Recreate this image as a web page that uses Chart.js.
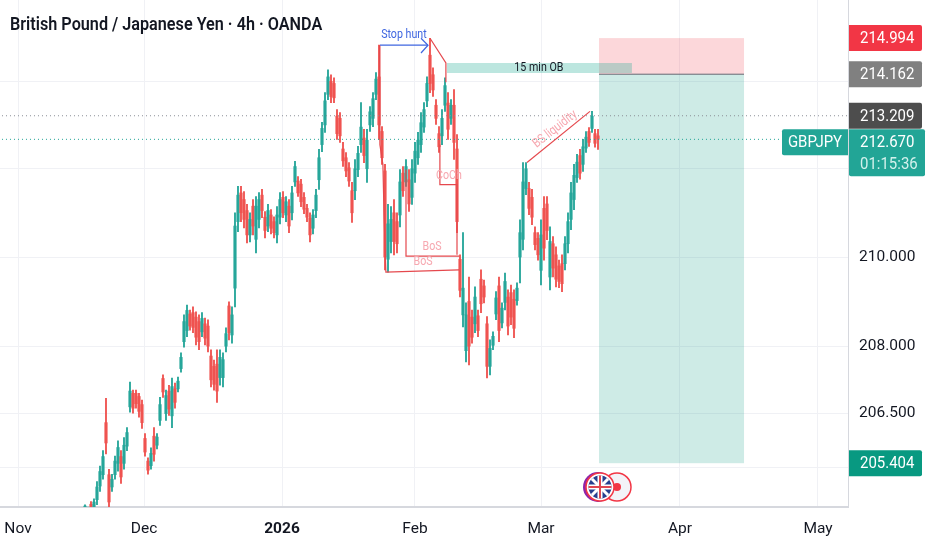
<!DOCTYPE html>
<html>
<head>
<meta charset="utf-8">
<style>
  html, body { margin: 0; padding: 0; background: #fff; }
  canvas { display: block; }
</style>
<script src="https://cdn.jsdelivr.net/npm/chart.js@4/dist/chart.umd.min.js"></script>
</head>
<body>
<canvas id="chart" width="932" height="550"></canvas>
<script>
const highs = [204.49,204.44,204.56,204.62,205.00,205.34,205.68,206.84,205.27,205.16,205.56,205.90,205.68,205.97,206.19,207.20,207.02,207.02,206.95,206.80,206.06,205.52,205.74,206.19,206.06,206.86,207.36,207.02,207.13,207.29,207.18,207.31,207.85,208.70,208.92,208.81,208.88,208.77,208.70,208.75,208.63,208.59,207.92,207.69,207.92,207.92,207.85,208.41,208.99,208.88,211.00,211.60,211.60,211.48,211.19,211.00,211.30,211.37,211.46,211.53,211.03,211.19,211.07,210.91,211.14,211.46,211.48,211.37,211.30,211.60,212.17,211.82,211.76,211.46,211.19,211.00,211.07,211.53,212.44,213.06,213.74,214.26,214.15,214.08,213.35,213.28,212.60,212.37,212.14,211.69,212.21,212.51,213.51,212.90,212.90,213.42,213.74,214.20,214.83,212.96,212.10,211.19,211.14,211.30,211.00,211.98,212.05,212.21,211.98,212.21,212.60,212.83,213.28,213.51,214.10,214.99,214.31,213.58,212.96,213.35,214.08,213.74,213.58,213.81,212.78,210.05,210.55,208.97,209.55,208.81,209.33,208.81,209.71,209.48,208.66,208.14,208.32,209.22,209.55,208.97,209.64,209.26,209.37,209.26,209.42,210.84,212.14,212.14,211.69,211.53,210.68,210.55,210.84,211.37,211.37,210.68,210.46,210.23,209.93,210.05,210.46,211.00,211.69,212.10,212.33,212.44,212.67,212.85,212.94,213.31,212.90,212.90];
const lows = [204.36,204.29,204.29,204.33,204.49,204.78,205.05,205.61,204.33,204.78,205.05,205.23,204.96,205.27,205.68,206.53,206.51,206.62,206.42,206.17,205.56,205.16,205.27,205.45,205.72,206.24,206.86,206.35,206.46,206.19,206.62,206.98,207.42,207.98,208.21,208.36,208.30,208.03,207.92,208.21,208.03,207.87,207.09,207.02,206.75,207.13,207.09,207.87,208.14,208.07,208.88,210.57,210.80,210.66,210.32,210.34,210.50,210.09,210.66,210.89,210.43,210.57,210.52,210.43,210.32,210.75,210.89,210.80,210.55,210.84,211.60,211.37,211.14,210.98,210.80,210.34,210.52,210.89,211.53,212.39,212.83,213.58,213.51,213.51,212.67,212.60,212.05,211.82,211.60,210.78,211.30,211.82,212.37,212.14,211.69,212.85,212.96,213.58,212.67,212.10,209.71,209.66,210.09,210.05,210.09,210.68,211.37,211.60,211.03,211.19,211.69,212.10,212.37,212.83,213.42,213.74,213.65,213.01,212.37,212.55,213.31,212.67,213.01,212.21,210.55,209.10,208.43,207.65,207.58,208.07,208.30,208.21,208.75,208.97,207.29,207.36,207.92,208.59,208.10,208.41,208.81,208.25,208.48,208.19,208.92,209.42,210.16,211.41,210.96,210.73,210.16,209.93,209.37,209.93,210.39,209.26,209.55,209.33,209.31,209.22,209.71,210.09,210.62,211.07,211.69,211.76,211.94,212.37,212.51,212.83,212.49,212.44];
const opens = [204.39,204.33,204.50,204.40,204.60,204.90,205.15,206.30,205.15,204.88,205.15,205.40,205.55,205.40,205.78,206.65,206.95,206.95,206.88,206.70,205.95,205.45,205.35,206.00,205.80,206.35,207.28,206.50,207.00,206.45,207.05,207.05,207.50,208.10,208.35,208.72,208.75,208.65,208.55,208.32,208.50,208.45,207.78,207.55,207.60,207.30,207.30,208.00,208.90,208.25,209.30,210.80,211.45,211.30,211.05,210.50,211.15,210.40,210.85,211.40,210.90,210.70,210.95,210.80,210.50,210.90,211.35,210.95,211.15,211.00,211.70,211.72,211.65,211.35,211.10,210.88,210.65,211.05,211.75,212.55,213.00,213.70,214.00,213.95,213.20,213.15,212.45,212.25,212.02,211.50,211.50,211.98,212.55,212.70,212.00,213.00,213.15,213.70,214.10,212.85,211.95,209.95,210.35,211.00,210.80,210.95,211.90,211.70,211.75,211.35,211.90,212.25,212.55,212.95,213.55,214.60,214.15,213.45,212.80,212.75,213.45,213.50,213.15,213.45,212.45,209.95,208.70,207.90,209.00,208.65,208.50,208.68,209.50,209.35,208.50,207.55,208.02,208.72,209.35,208.52,208.98,209.10,209.20,209.05,209.02,210.00,210.40,211.55,211.55,211.35,210.55,210.42,209.70,211.10,211.20,209.55,210.30,210.05,209.80,209.85,209.85,210.30,210.85,211.30,211.80,212.30,212.10,212.47,212.85,212.92,212.80,212.75];
const closes = [204.46,204.40,204.36,204.55,204.88,205.22,205.55,205.85,204.55,205.05,205.45,205.75,205.10,205.80,206.08,207.00,206.62,206.72,206.55,206.30,205.65,205.25,205.62,205.60,205.98,206.70,206.98,206.90,206.60,207.10,206.75,207.22,207.75,208.55,208.80,208.45,208.42,208.20,208.10,208.62,208.18,208.00,207.25,207.15,207.00,207.75,207.70,208.28,208.30,208.70,210.70,211.40,211.00,210.85,210.50,210.85,210.70,211.15,211.30,211.05,210.60,211.05,210.65,210.55,210.95,211.30,211.00,211.25,210.70,211.45,212.05,211.45,211.25,211.08,210.90,210.50,210.95,211.40,212.25,212.92,213.55,214.10,213.65,213.62,212.80,212.75,212.18,211.95,211.72,211.00,212.00,212.35,212.95,212.30,212.65,213.30,213.60,214.05,213.00,212.25,210.00,210.75,210.85,210.35,210.30,211.70,211.50,212.05,211.20,212.00,212.40,212.65,213.05,213.35,213.95,213.95,213.80,213.15,212.50,213.15,213.90,212.90,213.45,212.60,210.80,209.25,209.30,208.70,208.00,208.20,209.10,208.35,208.95,209.10,207.55,207.95,208.22,209.08,208.35,208.85,209.45,208.45,208.65,208.40,209.30,210.55,211.70,212.00,211.10,210.90,210.28,210.05,210.50,210.20,210.60,210.35,209.75,209.50,209.45,209.40,210.30,210.80,211.45,211.85,212.15,211.90,212.50,212.72,212.60,213.20,212.58,212.67];

const priceTicks = [214, 212, 210, 208, 206.5, 205.3];
const monthBars = [-22.33, 19.67, 65.67, 110, 152, 198.33, 244.33];
const monthLabels = ['Nov', 'Dec', '2026', 'Feb', 'Mar', 'Apr', 'May'];

const stopPrice = 214.994;
const entryPrice = 214.162;
const targetPrice = 205.404;
const swingPrice = 213.209;
const lastPrice = 212.670;
const countdown = '01:15:36';
const symbol = 'GBPJPY';
const boxBars = [171.33, 219.67];
const obBars = [120.67, 182.3];
const obPrices = [214.19, 214.42];

// drawings on the chart, bar number + price
const arrowBars = [98.33, 114.33];
const arrowPrices = [214.83, 214.83];
const arrowHeadBars = [112, 114.33, 112];
const arrowHeadPrices = [214.99, 214.83, 214.65];
const dropBars = [98.2, 98.3, 99.3, 99.7, 100.3, 124.7];
const dropPrices = [214.83, 212.55, 212.10, 210.91, 209.66, 209.71];
const bosBars = [107, 107, 124.7];
const bosPrices = [211.98, 210.02, 210.02];
const peakBars = [115, 120.3, 120.3];
const peakPrices = [214.99, 214.42, 213.98];
const cochBars = [118.3, 118.3, 124, 124];
const cochPrices = [212.55, 211.64, 211.64, 210.05];
const liquidityBars = [147.33, 168.33];
const liquidityPrices = [212.14, 213.31];

const noteTexts = ['Stop hunt', '15 min OB', 'BoS', 'BoS', 'CoCh', 'BS liquidity'];
const noteBars = [106.3, 151.3, 115.7, 112.7, 121.3, 156.7];
const notePrices = [215.07, 214.32, 210.23, 209.89, 211.85, 212.90];
const noteColors = ['#3f66e0', '#131722', '#f7a8b0', '#f7a8b0', '#f7a8b0', '#f7a8b0'];
const noteAngles = [0, 0, 0, 0, 0, -38];

const UP = '#26a69a';
const DOWN = '#ef5350';
const RED_LINE = '#e5484d';
const FONT = 'Roboto, sans-serif';

const candleColors = opens.map((o, i) => (closes[i] >= o ? UP : DOWN));
const barNumbers = opens.map((_, i) => i);

const pairs = (xs, ys) => xs.map((x, i) => ({ x, y: ys[i] }));

const lineSet = (xs, ys, color, width, dash) => ({
  type: 'line',
  data: pairs(xs, ys),
  borderColor: color,
  borderWidth: width,
  borderDash: dash || [],
  pointRadius: 0,
  fill: false,
  tension: 0
});

// boxes sit under the candles
const positionBoxes = {
  id: 'positionBoxes',
  beforeDatasetsDraw(chart) {
    const { ctx, scales: { x, y } } = chart;
    const rect = (x0, x1, p0, p1, color) => {
      ctx.fillStyle = color;
      ctx.fillRect(x.getPixelForValue(x0), y.getPixelForValue(p1),
        x.getPixelForValue(x1) - x.getPixelForValue(x0),
        y.getPixelForValue(p0) - y.getPixelForValue(p1));
    };
    rect(boxBars[0], boxBars[1], entryPrice, stopPrice, 'rgba(242,54,69,0.2)');
    rect(boxBars[0], boxBars[1], targetPrice, entryPrice, 'rgba(8,153,129,0.2)');
    rect(obBars[0], obBars[1], obPrices[0], obPrices[1], 'rgba(34,171,148,0.3)');
  }
};

// narrow text, the reference is squeezed a bit sideways
const squeezedText = (ctx, text, px, py, font, color, align, squeeze) => {
  ctx.save();
  ctx.translate(px, py);
  ctx.scale(squeeze, 1);
  ctx.font = font;
  ctx.fillStyle = color;
  ctx.textAlign = align;
  ctx.textBaseline = 'middle';
  ctx.fillText(text, 0, 0);
  ctx.restore();
};

const overlays = {
  id: 'overlays',
  afterDraw(chart) {
    const { ctx, scales: { x, y } } = chart;
    ctx.save();

    squeezedText(ctx, 'British Pound / Japanese Yen · 4h · OANDA', 10, 25, '600 18px ' + FONT, '#131722', 'left', 0.9);

    // notes
    noteTexts.forEach((t, i) => {
      ctx.save();
      ctx.translate(x.getPixelForValue(noteBars[i]), y.getPixelForValue(notePrices[i]));
      ctx.rotate(noteAngles[i] * Math.PI / 180);
      squeezedText(ctx, t, 0, 0, '13px ' + FONT, noteColors[i], 'center', 0.82);
      ctx.restore();
    });

    // price labels
    const tagFont = '17px ' + FONT;
    const tag = (price, color, text) => {
      const py = y.getPixelForValue(price);
      ctx.fillStyle = color;
      ctx.beginPath();
      ctx.roundRect(849, py - 13, 73, 26, [0, 2, 2, 0]);
      ctx.fill();
      squeezedText(ctx, text, 860, py + 1, tagFont, '#fff', 'left', 0.88);
    };
    tag(entryPrice, '#808080', entryPrice.toFixed(3));
    tag(stopPrice, '#f23645', stopPrice.toFixed(3));
    tag(swingPrice, '#4d4d4d', swingPrice.toFixed(3));
    tag(targetPrice, '#089981', targetPrice.toFixed(3));

    const lastY = y.getPixelForValue(lastPrice);
    ctx.fillStyle = '#22a596';
    ctx.beginPath();
    ctx.roundRect(782, lastY - 10, 66, 26, [2, 0, 0, 2]);
    ctx.fill();
    ctx.beginPath();
    ctx.roundRect(849, lastY - 10, 76, 47, [0, 2, 2, 2]);
    ctx.fill();
    squeezedText(ctx, symbol, 815, lastY + 3, tagFont, '#fff', 'center', 0.88);
    squeezedText(ctx, lastPrice.toFixed(3), 860, lastY + 3, tagFont, '#fff', 'left', 0.88);
    squeezedText(ctx, countdown, 860, lastY + 25, tagFont, '#d3f1ec', 'left', 0.88);

    // currency badges
    const jpX = 617, gbX = 600, cy = 487, r = 14;
    ctx.beginPath();
    ctx.arc(jpX, cy, r, 0, Math.PI * 2);
    ctx.fillStyle = '#f3f3f8';
    ctx.fill();
    ctx.lineWidth = 1.5;
    ctx.strokeStyle = '#f23645';
    ctx.stroke();
    ctx.beginPath();
    ctx.arc(jpX, cy, 4, 0, Math.PI * 2);
    ctx.fillStyle = '#f23645';
    ctx.fill();

    ctx.beginPath();
    ctx.arc(gbX - 2, cy, r + 1, 0, Math.PI * 2);
    ctx.fillStyle = '#8e24aa';
    ctx.fill();
    ctx.beginPath();
    ctx.arc(gbX, cy, r, 0, Math.PI * 2);
    ctx.fillStyle = '#fff';
    ctx.fill();
    ctx.strokeStyle = '#f23645';
    ctx.stroke();
    ctx.save();
    ctx.beginPath();
    ctx.arc(gbX, cy, r - 2.5, 0, Math.PI * 2);
    ctx.clip();
    ctx.fillStyle = '#27408f';
    ctx.fillRect(gbX - r, cy - r, r * 2, r * 2);
    ctx.strokeStyle = '#fff';
    ctx.lineWidth = 3;
    ctx.beginPath();
    ctx.moveTo(gbX - r, cy - r); ctx.lineTo(gbX + r, cy + r);
    ctx.moveTo(gbX + r, cy - r); ctx.lineTo(gbX - r, cy + r);
    ctx.stroke();
    ctx.lineWidth = 5;
    ctx.beginPath();
    ctx.moveTo(gbX, cy - r); ctx.lineTo(gbX, cy + r);
    ctx.moveTo(gbX - r, cy); ctx.lineTo(gbX + r, cy);
    ctx.stroke();
    ctx.strokeStyle = '#e04650';
    ctx.lineWidth = 2;
    ctx.stroke();
    ctx.restore();

    ctx.restore();
  }
};

new Chart(document.getElementById('chart'), {
  type: 'bar',
  data: {
    datasets: [
      lineSet(arrowBars, arrowPrices, '#3f66e0', 1.2),
      lineSet(arrowHeadBars, arrowHeadPrices, '#3f66e0', 1.2),
      lineSet(dropBars, dropPrices, RED_LINE, 1.2),
      lineSet(bosBars, bosPrices, RED_LINE, 1.2),
      lineSet(peakBars, peakPrices, RED_LINE, 1.2),
      lineSet(cochBars, cochPrices, RED_LINE, 1.2),
      lineSet(liquidityBars, liquidityPrices, RED_LINE, 1.2),
      lineSet(boxBars, [entryPrice, entryPrice], '#666a73', 1),
      lineSet([-29, 255], [swingPrice, swingPrice], '#8a8d96', 1, [1, 3]),
      lineSet([-29, 255], [lastPrice, lastPrice], '#22a596', 1, [1, 3]),
      {
        data: barNumbers.map((x, i) => ({ x, y: [opens[i], closes[i]] })),
        backgroundColor: candleColors,
        barThickness: 2.5,
        grouped: false
      },
      {
        data: barNumbers.map((x, i) => ({ x, y: [lows[i], highs[i]] })),
        backgroundColor: candleColors,
        barThickness: 1.2,
        grouped: false
      }
    ]
  },
  options: {
    responsive: false,
    animation: false,
    layout: { padding: 0, autoPadding: false },
    plugins: { legend: { display: false }, tooltip: { enabled: false } },
    scales: {
      x: {
        type: 'linear',
        offset: false,
        min: -28.33,
        max: 254.33,
        grid: { color: '#f0f1f5', offset: false, drawTicks: false },
        border: { color: '#d6d8de', width: 2 },
        afterBuildTicks: (scale) => { scale.ticks = monthBars.map((value) => ({ value })); },
        afterFit: (scale) => {
          scale.height = 43;
          scale.paddingLeft = 0;
          scale.paddingRight = 0;
        },
        ticks: {
          autoSkip: false,
          maxRotation: 0,
          padding: 13,
          color: '#131722',
          font: (ctx) => ({ family: FONT, size: 15.5, weight: ctx.tick && monthLabels[monthBars.indexOf(ctx.tick.value)] === '2026' ? 'bold' : 'normal' }),
          callback: (value) => monthLabels[monthBars.indexOf(value)]
        }
      },
      y: {
        type: 'logarithmic',
        position: 'right',
        min: 204.44,
        max: 215.875,
        grid: { color: '#f0f1f5', drawTicks: false },
        border: { color: '#d6d8de' },
        afterBuildTicks: (scale) => { scale.ticks = priceTicks.map((value) => ({ value })); },
        afterFit: (scale) => {
          scale.width = 84;
          scale.paddingTop = 0;
          scale.paddingBottom = 0;
        },
        ticks: {
          autoSkip: false,
          padding: 11,
          color: '#131722',
          font: { family: FONT, size: 15.5 },
          callback: (value) => value.toFixed(3)
        }
      }
    }
  },
  plugins: [positionBoxes, overlays]
});
</script>
</body>
</html>
